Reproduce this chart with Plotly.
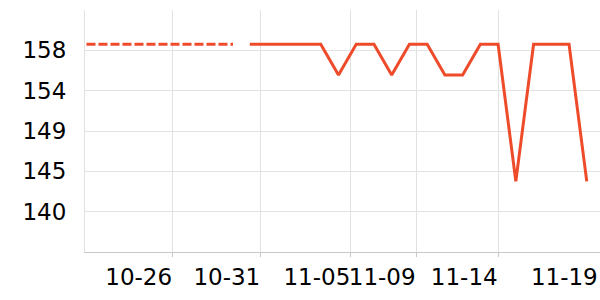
import plotly.graph_objects as go

# ---- data ----
# x in day units (solid series points are one day apart)
solid_x = [0, 1, 2, 3, 4, 5, 6, 7, 8, 9, 10, 11, 12, 13, 14, 15, 16, 17, 18, 19]
solid_y = [158.66, 158.66, 158.66, 158.66, 158.66, 155.3, 158.66, 158.66, 155.3, 158.66,
           158.66, 155.3, 155.3, 158.66, 158.66, 143.7, 158.66, 158.66, 158.66, 143.7]
dashed_x = [-9.21, -0.95]
dashed_y = [158.66, 158.66]

grid_x = [-4.35, 0.62, 5.70, 9.38, 14.01]
label_x = [-4.35, 0.62, 5.70, 9.38, 14.01, 19.65]
label_text = ["10-26", "10-31", "11-05", "11-09", "11-14", "11-19"]

y_ticks = [140.4, 144.8, 149.2, 153.6, 158.0]
y_text = ["140", "145", "149", "154", "158"]

x_range = [-9.294, 19.746]
y_range = [136, 162.4]

color = "#ee4b2b"
font = dict(family="DejaVu Sans", size=23, color="#000")

fig = go.Figure()
fig.add_trace(go.Scatter(x=dashed_x, y=dashed_y, mode="lines",
                         line=dict(color=color, width=3, dash="9px,3px"),
                         hoverinfo="skip", showlegend=False))
fig.add_trace(go.Scatter(x=solid_x, y=solid_y, mode="lines",
                         line=dict(color=color, width=3),
                         showlegend=False))
# invisible trace to instantiate the label axis
fig.add_trace(go.Scatter(x=[label_x[0]], y=[y_ticks[0]], mode="lines", xaxis="x2",
                         line=dict(width=0), hoverinfo="skip", showlegend=False))

fig.update_layout(
    width=600, height=300,
    margin=dict(l=85, r=0, t=10, b=48),
    paper_bgcolor="white", plot_bgcolor="white",
    font=font,
    xaxis=dict(range=x_range, tickmode="array", tickvals=grid_x, showticklabels=False,
               showgrid=True, gridcolor="#e2e2e2", gridwidth=1,
               ticks="outside", ticklen=4, tickcolor="#c8c8c8",
               showline=True, linecolor="#c8c8c8", linewidth=1, zeroline=False,
               automargin=False),
    xaxis2=dict(range=x_range, overlaying="x", anchor="y", side="bottom",
                tickmode="array", tickvals=label_x, ticktext=label_text,
                showgrid=False, ticks="", showline=False, zeroline=False,
                tickangle=0, automargin=False,
                ticklabelshift=-34, ticklabelstandoff=9, tickfont=font),
    yaxis=dict(range=y_range, tickmode="array", tickvals=y_ticks, ticktext=y_text,
               showgrid=True, gridcolor="#e2e2e2", gridwidth=1,
               showline=True, linecolor="#e2e2e2", linewidth=1, automargin=False,
               ticks="", zeroline=False, ticklabelstandoff=13, tickfont=font),
)

fig.write_html("out.html")
